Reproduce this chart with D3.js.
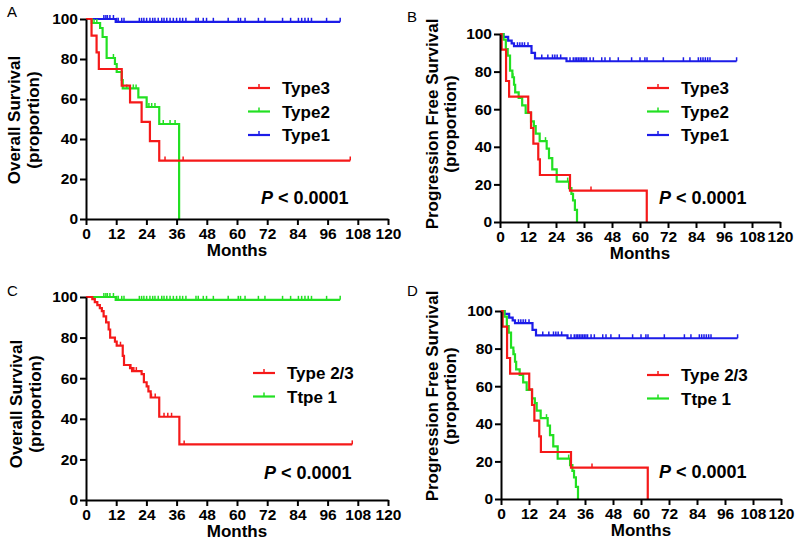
<!DOCTYPE html>
<html>
<head>
<meta charset="utf-8">
<script src="https://cdn.jsdelivr.net/npm/d3@7"></script>
<style>
  body { margin: 0; background: #fff; }
  svg { font-family: "Liberation Sans", Arial, sans-serif; }
</style>
</head>
<body>
<svg width="800" height="548"></svg>
<script>
// axis ticks
const xTicks = [0, 12, 24, 36, 48, 60, 72, 84, 96, 108, 120];
const yTicks = [0, 20, 40, 60, 80, 100];

// Overall survival: [month, survival after drop], censor months
const osType3Steps = [[2.2, 91.7], [4.2, 83.3], [5.1, 75], [14.2, 66.7], [17.5, 58.3], [22.1, 48.6], [25.4, 38.9], [29.1, 29.2]];
const osType3Censor = [31.4, 38.6, 105];
const osType2Steps = [[2.3, 98], [5.6, 95.5], [6.6, 91], [8.2, 80.5], [11.5, 77.5], [12.2, 73.5], [14.2, 69.5], [14.6, 65.3], [20.8, 60.8], [24.1, 56], [29.1, 47.5], [37, 0]];
const osType2Censor = [3.2, 4.3, 10.9, 16.2, 18.8, 19.9, 25, 26.1, 27.4, 30.7, 33.4, 35.4];
const osType1Steps = [[11.8, 98.6]];
const osType1Censor = [7.1, 7.9, 8.5, 9.5, 10.9, 12.2, 12.8, 14.2, 15.1, 21.2, 22.1, 23.0, 24.1, 25.4, 26.5, 27.4, 28.7, 30.1, 31.0, 32.1, 33.4, 34.7, 36.0, 37.3, 38.4, 39.7, 43.7, 44.6, 46.6, 47.9, 50.6, 56.5, 60.5, 61.4, 63.2, 68.5, 71.1, 78.1, 81.3, 84.4, 85.7, 87.0, 88.3, 89.6, 95.6, 101];
const osType23Steps = [[2.5, 99], [3.5, 97.5], [4.5, 96], [5.5, 94.5], [6.3, 93], [7, 90.5], [8, 87.5], [9, 84], [9.6, 80], [11.5, 78], [12.2, 76], [14.6, 71], [15.1, 66.5], [17.5, 65], [18.3, 63.5], [22.1, 62], [23, 58], [24.1, 56], [24.8, 53.5], [25.7, 50.5], [29.1, 41], [37.1, 27.4]];
const osType23Censor = [11.5, 13.7, 17.8, 19, 20, 26, 27.5, 31, 32.5, 34, 39, 105.8];

// Progression free survival
const pfsType3Steps = [[0.7, 91.7], [2.6, 75], [3.9, 66.7], [12.1, 58.3], [13.3, 50], [14.3, 41.7], [16.4, 33.3], [17.1, 25], [30, 16.7], [62.9, 0]];
const pfsType3Censor = [39];
const pfsType2Steps = [[1.5, 97], [2.5, 92], [3.3, 88.5], [4.3, 80.5], [5.3, 77], [6, 73], [6.5, 69], [8, 66], [9.5, 62], [11, 58], [13.3, 53.5], [14.5, 51], [15.3, 47], [17, 43], [20, 39], [21, 34], [22.4, 28], [24.3, 21.5], [29.6, 18], [30.6, 15], [31.3, 11.5], [32.1, 6.5], [33, 0]];
const pfsType2Censor = [5.5, 14.5, 19.5, 29];
const pfsType1Steps = [[1.5, 98.5], [3.5, 96.5], [5, 95], [6, 93.5], [13.5, 90], [15, 87], [28.5, 85.5]];
const pfsType1Censor = [7.5, 8.5, 9.5, 10.5, 12, 17.9, 20.5, 22.5, 23.5, 24.5, 26, 30, 31.4, 32.2, 32.9, 33.6, 34.3, 35, 35.7, 36.4, 37.1, 38.6, 40, 43.6, 45, 47.1, 50.7, 56.4, 60, 62.1, 63, 70, 78.6, 81.4, 85, 86, 87, 88, 89, 90, 101.4];

const RED = "#f51919", GREEN = "#22e022", BLUE = "#1c1ce8";

const panels = [
  { label: "A", lx: 7, ly: 17, x0: 86, x1: 388, y0: 19, y1: 219,
    title: ["Overall Survival", "(proportion)"], tx: [20, 39], ty: 120,
    curves: [
      { steps: osType1Steps, censor: osType1Censor, color: BLUE },
      { steps: osType2Steps, censor: osType2Censor, color: GREEN },
      { steps: osType3Steps, censor: osType3Censor, color: RED }],
    legend: [["Type3", RED], ["Type2", GREEN], ["Type1", BLUE]],
    legX: 248, legY: 88, pX: 261, pY: 204 },
  { label: "B", lx: 407, ly: 22, x0: 500, x1: 780, y0: 34, y1: 222,
    title: ["Progression Free Survival", "(proportion)"], tx: [438, 456], ty: 124,
    curves: [
      { steps: pfsType1Steps, censor: pfsType1Censor, color: BLUE },
      { steps: pfsType2Steps, censor: pfsType2Censor, color: GREEN },
      { steps: pfsType3Steps, censor: pfsType3Censor, color: RED }],
    legend: [["Type3", RED], ["Type2", GREEN], ["Type1", BLUE]],
    legX: 647, legY: 88, pX: 659, pY: 204 },
  { label: "C", lx: 7, ly: 296, x0: 86, x1: 388, y0: 297, y1: 500,
    title: ["Overall Survival", "(proportion)"], tx: [22, 41], ty: 404,
    curves: [
      { steps: osType1Steps, censor: osType1Censor, color: GREEN },
      { steps: osType23Steps, censor: osType23Censor, color: RED }],
    legend: [["Type 2/3", RED], ["Ttpe 1", GREEN]],
    legX: 253, legY: 373, pX: 264, pY: 479 },
  { label: "D", lx: 407, ly: 296, x0: 501, x1: 781, y0: 311, y1: 499,
    title: ["Progression Free Survival", "(proportion)"], tx: [438, 456], ty: 396,
    curves: [
      { steps: pfsType1Steps, censor: pfsType1Censor, color: BLUE },
      { steps: pfsType2Steps, censor: pfsType2Censor, color: GREEN },
      { steps: pfsType3Steps, censor: pfsType3Censor, color: RED }],
    legend: [["Type 2/3", RED], ["Ttpe 1", GREEN]],
    legX: 647, legY: 375, pX: 659, pY: 478 }
];

const svg = d3.select("svg");

function survAt(steps, t) {
  let s = 100;
  steps.forEach(d => { if (d[0] <= t) s = d[1]; });
  return s;
}

panels.forEach(p => {
  const x = d3.scaleLinear().domain([0, 120]).range([p.x0, p.x1]);
  const y = d3.scaleLinear().domain([0, 100]).range([p.y1, p.y0]);
  const g = svg.append("g");

  g.append("text").attr("x", p.lx).attr("y", p.ly)
    .style("font-size", "15px").text(p.label);

  const line = d3.line().x(d => x(d[0])).y(d => y(d[1])).curve(d3.curveStepAfter);

  p.curves.forEach(c => {
    const last = c.steps[c.steps.length - 1];
    const end = Math.max(last[0], d3.max(c.censor));
    const pts = [[0, 100]].concat(c.steps);
    if (end > last[0]) pts.push([end, last[1]]);
    g.append("path").attr("d", line(pts))
      .attr("fill", "none").attr("stroke", c.color).attr("stroke-width", 2.2);
    g.selectAll(null).data(c.censor).enter().append("line")
      .attr("x1", d => x(d)).attr("x2", d => x(d))
      .attr("y1", d => y(survAt(c.steps, d)))
      .attr("y2", d => y(survAt(c.steps, d)) - 4)
      .attr("stroke", c.color).attr("stroke-width", 1.5);
  });

  const xAxis = g.append("g").attr("transform", `translate(0,${p.y1})`)
    .call(d3.axisBottom(x).tickValues(xTicks).tickSize(6).tickSizeOuter(0).tickPadding(3));
  const yAxis = g.append("g").attr("transform", `translate(${p.x0},0)`)
    .call(d3.axisLeft(y).tickValues(yTicks).tickSize(6).tickSizeOuter(0).tickPadding(2));
  [xAxis, yAxis].forEach(a => {
    a.selectAll("path, line").attr("stroke", "#000").attr("stroke-width", 2);
    a.selectAll("text").attr("fill", "#000")
      .style("font-size", "15.5px").style("font-weight", "bold")
      .style("font-family", "'Liberation Sans', Arial, sans-serif");
  });

  g.append("text").attr("x", (p.x0 + p.x1) / 2).attr("y", p.y1 + 37)
    .attr("text-anchor", "middle").style("font-size", "17px").style("font-weight", "bold")
    .text("Months");

  p.title.forEach((t, i) => {
    g.append("text")
      .attr("transform", `translate(${p.tx[i]},${p.ty}) rotate(-90)`)
      .attr("text-anchor", "middle").style("font-size", "17px").style("font-weight", "bold")
      .text(t);
  });

  p.legend.forEach((l, i) => {
    const ly = p.legY + i * 23.5;
    g.append("line").attr("x1", p.legX).attr("x2", p.legX + 22)
      .attr("y1", ly).attr("y2", ly).attr("stroke", l[1]).attr("stroke-width", 2.2);
    g.append("line").attr("x1", p.legX + 11).attr("x2", p.legX + 11)
      .attr("y1", ly).attr("y2", ly - 4).attr("stroke", l[1]).attr("stroke-width", 1.5);
    g.append("text").attr("x", p.legX + 34).attr("y", ly + 6)
      .style("font-size", "17px").style("font-weight", "bold").text(l[0]);
  });

  const pt = g.append("text").attr("x", p.pX).attr("y", p.pY)
    .style("font-size", "18px").style("font-weight", "bold");
  pt.append("tspan").style("font-style", "italic").text("P");
  pt.append("tspan").text(" < 0.0001");
});
</script>
</body>
</html>
